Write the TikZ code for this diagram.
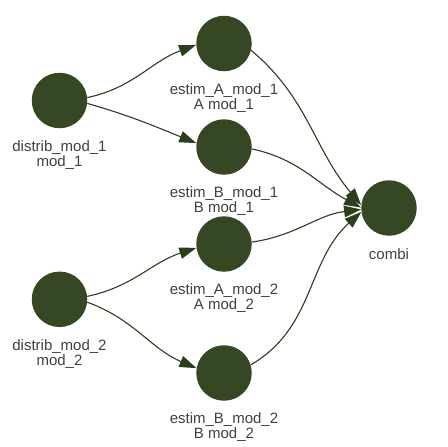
\documentclass[tikz,border=0pt]{standalone}
\usepackage{fontspec}
\setmainfont{Liberation Sans}
\usetikzlibrary{arrows.meta}
\definecolor{nodefill}{RGB}{53,72,35}
\definecolor{edgecol}{RGB}{44,62,28}
\definecolor{txtcol}{RGB}{64,64,64}
\begin{document}
\begin{tikzpicture}[x=1pt,y=1pt,
  vertex/.style={circle, fill=nodefill, draw=none, minimum size=55.5pt, inner sep=0pt},
  lbl/.style={align=center, text=txtcol, inner sep=0pt, font=\fontsize{15}{15}\selectfont},
  edge/.style={draw=edgecol, line width=1.1pt, -{Triangle[length=17pt,width=11.5pt,fill=edgecol]}}]
\fill[white] (0,0) rectangle (448,-447);
\useasboundingbox (0,0) rectangle (448,-447);
% nodes
\node[vertex] (d1) at (59.5,-100.5) {};
\node[vertex] (d2) at (59.5,-299.3) {};
\node[vertex] (a1) at (224,-43.5) {};
\node[vertex] (b1) at (224,-147) {};
\node[vertex] (a2) at (224,-244) {};
\node[vertex] (b2) at (224,-373) {};
\node[vertex] (c)  at (389,-208) {};
% labels
\node[lbl] (ld1) at (59.5,-155) {distrib\_mod\_1\\mod\_1};
\node[lbl] (ld2) at (59.5,-353.8) {distrib\_mod\_2\\mod\_2};
\node[lbl] (la1) at (224,-98) {estim\_A\_mod\_1\\A mod\_1};
\node[lbl] (lb1) at (224,-201.5) {estim\_B\_mod\_1\\B mod\_1};
\node[lbl] (la2) at (224,-298.5) {estim\_A\_mod\_2\\A mod\_2};
\node[lbl] (lb2) at (224,-427.5) {estim\_B\_mod\_2\\B mod\_2};
\node[lbl] (lc) at (389,-254) {combi};
% edges
\draw[edge] (d1.6) to[out=12, in=200] (a1.183);
\draw[edge] (d1.-6) to[out=-16, in=158] (b1.172);
\draw[edge] (d2.6) to[out=12, in=198] (a2.188);
\draw[edge] (d2.-6) to[out=-20, in=157] (b2.170);
\draw[edge] (a1.-14) to[out=-40, in=130] (c.174);
\draw[edge] (b1.-4) to[out=-12, in=152] (c.179);
\draw[edge] (a2.4) to[out=8, in=187] (c.183);
\draw[edge] (b2.17) to[out=30, in=222] (c.188);
\end{tikzpicture}
\end{document}
